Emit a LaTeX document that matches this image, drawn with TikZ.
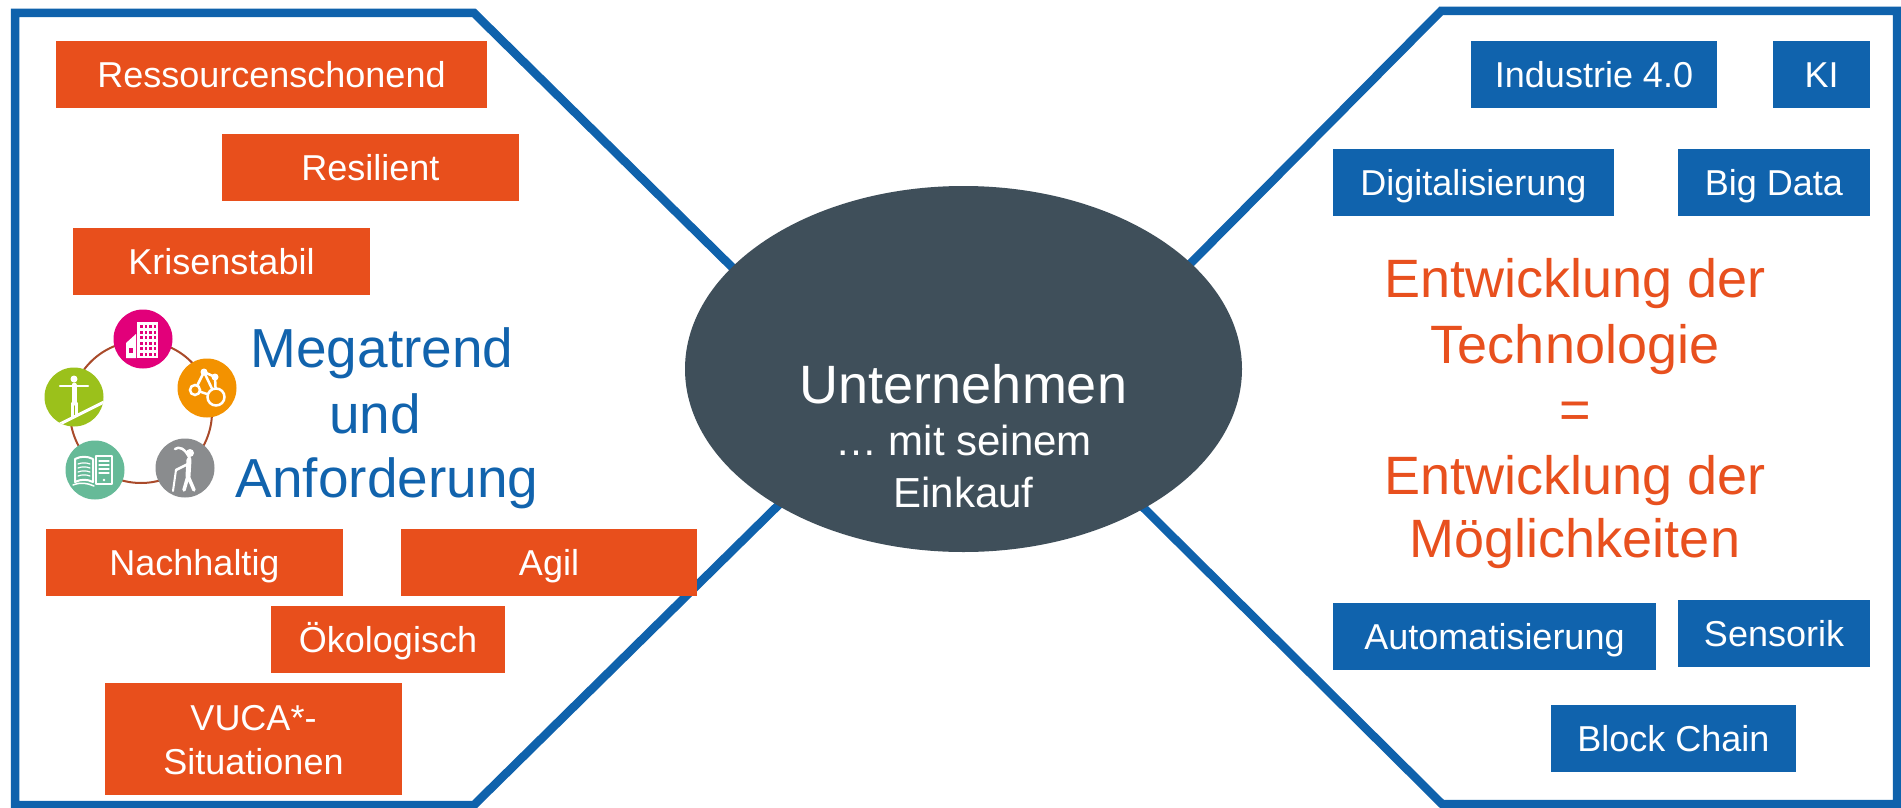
\documentclass[tikz,border=0pt]{standalone}
\usepackage{fontspec}
\setmainfont{Liberation Sans}
\usetikzlibrary{shapes.geometric}
\definecolor{frameblue}{HTML}{0F62AC}
\definecolor{boxorange}{HTML}{E84F1C}
\definecolor{boxblue}{HTML}{1063AD}
\definecolor{slate}{HTML}{3F4F5A}
\definecolor{txtorange}{HTML}{E8501E}
\definecolor{txtblue}{HTML}{1163AD}
\definecolor{icmag}{HTML}{E2007A}
\definecolor{icora}{HTML}{F39200}
\definecolor{icgrey}{HTML}{8A8C8E}
\definecolor{icteal}{HTML}{66BA98}
\definecolor{icgreen}{HTML}{9BC11B}
\definecolor{ringc}{HTML}{A94A2A}
\begin{document}
\begin{tikzpicture}[x=1pt,y=-1pt,
  frame/.style={draw=frameblue, line width=8.5pt, line join=miter},
  tagbox/.style={inner sep=0pt, minimum height=67pt, text=white,
     font=\fontsize{36}{44}\selectfont, text height=25.8pt, text depth=0pt},
  obox/.style={tagbox, fill=boxorange},
  bbox/.style={tagbox, fill=boxblue},
  bigblue/.style={anchor=base, text=txtblue, inner sep=0pt, font=\fontsize{55}{65}\selectfont},
  bigorange/.style={anchor=base, text=txtorange, inner sep=0pt, font=\fontsize{54}{65}\selectfont},
  ctext/.style={anchor=base, text=white, inner sep=0pt},
  icon/.style={circle, inner sep=0pt, minimum size=59pt},
  glyph/.style={white, line cap=round, line join=round}
]
\useasboundingbox (0,0) rectangle (1901,808);
\fill[white] (0,0) rectangle (1901,808);

% frames
\draw[frame] (474,13) -- (15,13) -- (15,805) -- (474,805) -- (876,409) -- cycle;
\draw[frame] (1441,11) -- (1897,11) -- (1897,804) -- (1442,804) -- (1045,410) -- cycle;

% centre ellipse
\node[ellipse, fill=slate, inner sep=0pt, minimum width=557pt, minimum height=366pt] (firm) at (963.5,369) {};
\node[ctext, font=\fontsize{54}{54}\selectfont] (firm1) at (963.5,403) {Unternehmen};
\node[ctext, font=\fontsize{42}{42}\selectfont] (firm2) at (963.5,455) {… mit seinem};
\node[ctext, font=\fontsize{42}{42}\selectfont] (firm3) at (963.5,507) {Einkauf};

% left boxes
\node[obox, minimum width=431pt] (ress) at (271.5,74.5) {Ressourcenschonend};
\node[obox, minimum width=297pt] (resi) at (370.5,167.5) {Resilient};
\node[obox, minimum width=297pt] (kris) at (221.5,261.5) {Krisenstabil};
\node[obox, minimum width=297pt] (nach) at (194.5,562.5) {Nachhaltig};
\node[obox, minimum width=296pt] (agil) at (549,562.5) {Agil};
\node[obox, minimum width=234pt] (oeko) at (388,639.5) {Ökologisch};
\node[obox, minimum width=297pt, minimum height=112pt, text height=0pt] (vuca) at (253.5,739) {};
\node[ctext, font=\fontsize{36}{44}\selectfont] (vuca1) at (253.5,730) {VUCA*-};
\node[ctext, font=\fontsize{36}{44}\selectfont] (vuca2) at (253.5,774) {Situationen};

% left heading
\node[bigblue] (mega1) at (382,367) {Megatrend};
\node[bigblue] (mega2) at (375,433) {und};
\node[bigblue] (mega3) at (387,497) {Anforderung};

% right boxes
\node[bbox, minimum width=246pt] (ind) at (1594,74.5) {Industrie 4.0};
\node[bbox, minimum width=97pt] (ki) at (1821.5,74.5) {KI};
\node[bbox, minimum width=281pt] (digi) at (1473.5,182.5) {Digitalisierung};
\node[bbox, minimum width=192pt] (big) at (1774,182.5) {Big Data};
\node[bbox, minimum width=323pt] (auto) at (1494.5,636.5) {Automatisierung};
\node[bbox, minimum width=192pt] (sens) at (1774,633.5) {Sensorik};
\node[bbox, minimum width=245pt] (block) at (1673.5,738.5) {Block Chain};

% right heading
\node[bigorange] (ent1) at (1575,297) {Entwicklung der};
\node[bigorange] (ent2) at (1575,363) {Technologie};
\node[bigorange] (ent3) at (1575,428) {=};
\node[bigorange] (ent4) at (1575,494) {Entwicklung der};
\node[bigorange] (ent5) at (1575,557) {Möglichkeiten};

% icon ring
\draw[ringc, line width=2pt] (141,412) circle (71);
\node[icon, fill=icmag] (icb) at (143,339) {};
\node[icon, fill=icora] (icn) at (207,388) {};
\node[icon, fill=icgrey] (ice) at (185,468) {};
\node[icon, fill=icteal] (icr) at (95,470) {};
\node[icon, fill=icgreen] (icw) at (74,397) {};

% building
\begin{scope}[shift={(143,339)}]
  \fill[white] (-6,-17) rectangle (15,19);
  \foreach \i in {0,1,2,3} \foreach \j in {0,...,5}
    \fill[icmag] (-3+\i*4.5,-14+\j*5.5) rectangle ++(2.5,3);
  \fill[white] (-17,19) -- (-17,4) -- (-7,-5) -- (-7,19) -- cycle;
  \fill[icmag] (-14,9) rectangle (-10,14);
\end{scope}
% network
\begin{scope}[shift={(207,388)}]
  \draw[glyph, line width=2.5pt] (-3,-16) -- (8,-11) -- (9,9) -- (-12,2) -- (-3,-16) -- (9,9);
  \fill[white] (-3,-16) circle (3.5);
  \fill[white] (8,-11) circle (3.5);
  \filldraw[fill=icora, draw=white, line width=2.5pt] (-12,2) circle (5);
  \filldraw[fill=icora, draw=white, line width=2.5pt] (9,9) circle (8.5);
\end{scope}
% elderly person
\begin{scope}[shift={(185,468)}]
  \fill[white] (5,-15) circle (4);
  \draw[glyph, line width=5pt] (4,-8) -- (3,8);
  \draw[glyph, line width=3.5pt] (3,8) -- (-1,22) (3,8) -- (9,22);
  \draw[glyph, line width=2.5pt] (5,-9) .. controls (0,-20) and (-6,-22) .. (-10,-19);
  \draw[glyph, line width=2.5pt] (3,-4) -- (-9,2);
  \draw[glyph, line width=2pt] (-9,2) -- (-12,23);
\end{scope}
% book and tablet
\begin{scope}[shift={(95,470)}]
  \draw[glyph, line width=2pt] (-2,-11) .. controls (-8,-14) and (-14,-14) .. (-20,-11) -- (-20,12) .. controls (-14,9) and (-8,9) .. (-2,12) -- cycle;
  \foreach \k in {-6,-2,2,6}
    \draw[glyph, line width=1.2pt] (-17,\k) .. controls (-13,\k-1.5) and (-9,\k-1.5) .. (-5,\k);
  \draw[glyph, line width=2pt] (1,-14) rectangle (17,14);
  \foreach \k in {-9,-5,-1,3}
    \draw[glyph, line width=1.2pt] (4,\k) -- (14,\k);
  \fill[white] (9,10) circle (1.3);
  \draw[glyph, line width=1.5pt] (-22,15) .. controls (-14,12) and (-8,13) .. (-1,16);
\end{scope}
% tightrope walker
\begin{scope}[shift={(74,397)}]
  \begin{scope}
    \clip (0,0) circle (29.5);
    \draw[white, line width=3pt] (-16,28) -- (32,4);
  \end{scope}
  \fill[white] (0,-18) circle (3.5);
  \draw[glyph, line width=2.5pt] (-14,-11) -- (14,-11);
  \draw[glyph, line width=5pt] (0,-12) -- (0,6);
  \draw[glyph, line width=3pt] (-2,6) -- (-2,20) (2,6) -- (2,18);
\end{scope}
\end{tikzpicture}
\end{document}
